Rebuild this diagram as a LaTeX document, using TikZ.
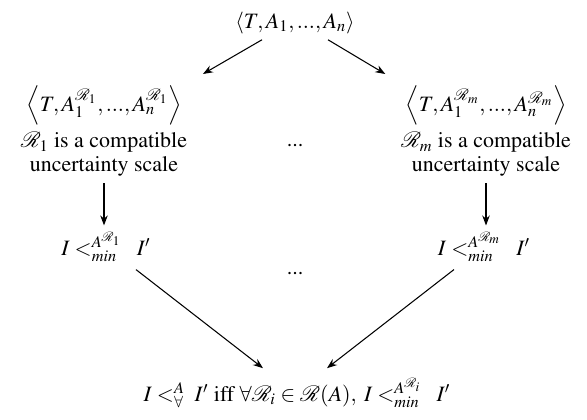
\documentclass[tikz,border=0pt]{standalone}
\usepackage[T1]{fontenc}
\usepackage{mathptmx}
\usetikzlibrary{arrows.meta, positioning, calc}

\begin{document}
\begin{tikzpicture}[
    x=0.02cm, y=-0.02cm,
    >={Stealth[length=2mm,width=1.5mm]},
    font=\fontsize{12.5}{13.5}\selectfont,
    term/.style={inner sep=2pt, align=center},
    link/.style={->, semithick},
]
\useasboundingbox (0,0) rectangle (587,419);

\node[term]                  (tup)    at (295,23)  {$\langle T,A_1,...,A_n\rangle$};
\node[term, anchor=north]    (scale1) at (104,82)
    {$\left\langle T,A_1^{\mathcal{R}_1},...,A_n^{\mathcal{R}_1}\right\rangle$\\[3pt]
     $\mathcal{R}_1$ is a compatible\\ uncertainty scale};
\node[term, anchor=north]    (scalem) at (486,82)
    {$\left\langle T,A_1^{\mathcal{R}_m},...,A_n^{\mathcal{R}_m}\right\rangle$\\[3pt]
     $\mathcal{R}_m$ is a compatible\\ uncertainty scale};
\node[term]                  (dotsa)  at (295,145) {...};
\node[term]                  (min1)   at (106,247) {$I<^{A^{\mathcal{R}_1}}_{min}\;\;I'$};
\node[term]                  (minm)   at (484,247) {$I<^{A^{\mathcal{R}_m}}_{min}\;\;I'$};
\node[term]                  (dotsb)  at (295,273) {...};
\node[term]                  (forall) at (297,393)
    {$I<^{A}_{\forall}\;I'$ iff $\forall\mathcal{R}_i\in\mathcal{R}(A),\;I<^{A^{\mathcal{R}_i}}_{min}\;\;I'$};

\draw[link] ($(tup.south)+(-33,2)$) -- ($(scale1.north east)+(12,-8)$);
\draw[link] ($(tup.south)+(33,2)$)  -- ($(scalem.north west)+(-12,-8)$);
\draw[link] ($(scale1.south)+(0,3)$) -- ($(scale1.south |- min1.north)+(0,-3)$);
\draw[link] ($(scalem.south)+(0,3)$) -- ($(scalem.south |- minm.north)+(0,-3)$);
\draw[link] ($(min1.south)+(30,4)$) -- ($(forall.north)+(-34,-6)$);
\draw[link] ($(minm.south)+(-30,4)$) -- ($(forall.north)+(30,-6)$);

\end{tikzpicture}
\end{document}
